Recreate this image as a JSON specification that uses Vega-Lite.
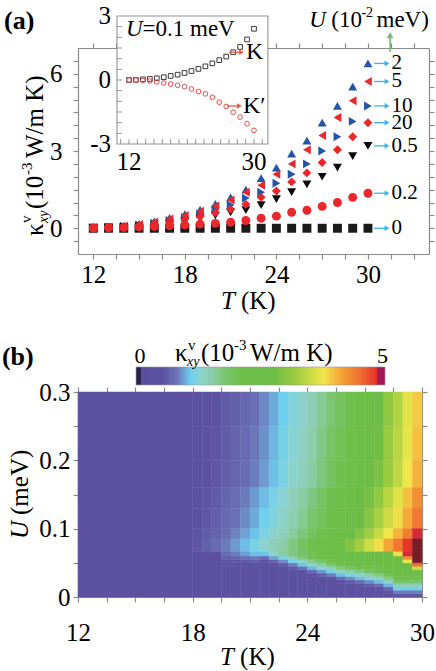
{
"$schema":"https://vega.github.io/schema/vega-lite/v6.json",
"padding":{"left":1,"top":4,"right":0,"bottom":0},
"spacing":22,
"config":{"font":"Liberation Serif","view":{"stroke":null},
"axis":{"labelFont":"Liberation Serif","labelFontSize":25,"labelColor":"#000","domainColor":"#8a8a8a","tickColor":"#8a8a8a","tickSize":5,"grid":false,"labelFlush":false,"labelOverlap":false,"domainWidth":1.2,"tickWidth":1.2},
"text":{"font":"Liberation Serif","color":"#000"}},
"datasets":{
"main":[
{"s":"2","T":12,"v":0.03},{"s":"2","T":13,"v":0.06},{"s":"2","T":14,"v":0.1},{"s":"2","T":15,"v":0.17},{"s":"2","T":16,"v":0.27},{"s":"2","T":17,"v":0.4},{"s":"2","T":18,"v":0.55},{"s":"2","T":19,"v":0.72},{"s":"2","T":20,"v":0.95},{"s":"2","T":21,"v":1.2},{"s":"2","T":22,"v":1.5},{"s":"2","T":23,"v":1.95},{"s":"2","T":24,"v":2.35},{"s":"2","T":25,"v":2.9},{"s":"2","T":26,"v":3.4},{"s":"2","T":27,"v":4.1},{"s":"2","T":28,"v":4.75},{"s":"2","T":29,"v":5.5},{"s":"2","T":30,"v":6.4},
{"s":"10","T":12,"v":0.02},{"s":"10","T":13,"v":0.04},{"s":"10","T":14,"v":0.08},{"s":"10","T":15,"v":0.13},{"s":"10","T":16,"v":0.2},{"s":"10","T":17,"v":0.3},{"s":"10","T":18,"v":0.42},{"s":"10","T":19,"v":0.55},{"s":"10","T":20,"v":0.72},{"s":"10","T":21,"v":0.9},{"s":"10","T":22,"v":1.17},{"s":"10","T":23,"v":1.4},{"s":"10","T":24,"v":1.75},{"s":"10","T":25,"v":2.1},{"s":"10","T":26,"v":2.5},{"s":"10","T":27,"v":3.0},{"s":"10","T":28,"v":3.55},{"s":"10","T":29,"v":4.15},{"s":"10","T":30,"v":4.75},
{"s":"0.5","T":12,"v":0.01},{"s":"0.5","T":13,"v":0.03},{"s":"0.5","T":14,"v":0.05},{"s":"0.5","T":15,"v":0.08},{"s":"0.5","T":16,"v":0.13},{"s":"0.5","T":17,"v":0.2},{"s":"0.5","T":18,"v":0.28},{"s":"0.5","T":19,"v":0.38},{"s":"0.5","T":20,"v":0.5},{"s":"0.5","T":21,"v":0.62},{"s":"0.5","T":22,"v":0.7},{"s":"0.5","T":23,"v":0.9},{"s":"0.5","T":24,"v":1.13},{"s":"0.5","T":25,"v":1.4},{"s":"0.5","T":26,"v":1.7},{"s":"0.5","T":27,"v":2.0},{"s":"0.5","T":28,"v":2.35},{"s":"0.5","T":29,"v":2.8},{"s":"0.5","T":30,"v":3.2},
{"s":"0","T":12,"v":0},{"s":"0","T":13,"v":0},{"s":"0","T":14,"v":0},{"s":"0","T":15,"v":0},{"s":"0","T":16,"v":0},{"s":"0","T":17,"v":0},{"s":"0","T":18,"v":0},{"s":"0","T":19,"v":0},{"s":"0","T":20,"v":0},{"s":"0","T":21,"v":0},{"s":"0","T":22,"v":0},{"s":"0","T":23,"v":0},{"s":"0","T":24,"v":0},{"s":"0","T":25,"v":0},{"s":"0","T":26,"v":0},{"s":"0","T":27,"v":0},{"s":"0","T":28,"v":0},{"s":"0","T":29,"v":0},{"s":"0","T":30,"v":0},
{"s":"5","T":12,"v":0.03},{"s":"5","T":13,"v":0.05},{"s":"5","T":14,"v":0.09},{"s":"5","T":15,"v":0.15},{"s":"5","T":16,"v":0.24},{"s":"5","T":17,"v":0.36},{"s":"5","T":18,"v":0.5},{"s":"5","T":19,"v":0.66},{"s":"5","T":20,"v":0.87},{"s":"5","T":21,"v":1.1},{"s":"5","T":22,"v":1.4},{"s":"5","T":23,"v":1.67},{"s":"5","T":24,"v":2.1},{"s":"5","T":25,"v":2.5},{"s":"5","T":26,"v":3.05},{"s":"5","T":27,"v":3.6},{"s":"5","T":28,"v":4.3},{"s":"5","T":29,"v":4.95},{"s":"5","T":30,"v":5.7},
{"s":"20","T":12,"v":0.02},{"s":"20","T":13,"v":0.04},{"s":"20","T":14,"v":0.07},{"s":"20","T":15,"v":0.11},{"s":"20","T":16,"v":0.17},{"s":"20","T":17,"v":0.25},{"s":"20","T":18,"v":0.35},{"s":"20","T":19,"v":0.46},{"s":"20","T":20,"v":0.6},{"s":"20","T":21,"v":0.74},{"s":"20","T":22,"v":0.93},{"s":"20","T":23,"v":1.2},{"s":"20","T":24,"v":1.45},{"s":"20","T":25,"v":1.8},{"s":"20","T":26,"v":2.15},{"s":"20","T":27,"v":2.55},{"s":"20","T":28,"v":3.05},{"s":"20","T":29,"v":3.55},{"s":"20","T":30,"v":4.1},
{"s":"0.2","T":12,"v":0.01},{"s":"0.2","T":13,"v":0.02},{"s":"0.2","T":14,"v":0.03},{"s":"0.2","T":15,"v":0.05},{"s":"0.2","T":16,"v":0.07},{"s":"0.2","T":17,"v":0.1},{"s":"0.2","T":18,"v":0.13},{"s":"0.2","T":19,"v":0.16},{"s":"0.2","T":20,"v":0.19},{"s":"0.2","T":21,"v":0.23},{"s":"0.2","T":22,"v":0.3},{"s":"0.2","T":23,"v":0.39},{"s":"0.2","T":24,"v":0.47},{"s":"0.2","T":25,"v":0.62},{"s":"0.2","T":26,"v":0.7},{"s":"0.2","T":27,"v":0.85},{"s":"0.2","T":28,"v":1.0},{"s":"0.2","T":29,"v":1.2},{"s":"0.2","T":30,"v":1.36}
],
"inset":[
{"b":"K","T":12,"v":0},{"b":"K","T":13,"v":0.01},{"b":"K","T":14,"v":0.03},{"b":"K","T":15,"v":0.05},{"b":"K","T":16,"v":0.08},{"b":"K","T":17,"v":0.13},{"b":"K","T":18,"v":0.19},{"b":"K","T":19,"v":0.25},{"b":"K","T":20,"v":0.33},{"b":"K","T":21,"v":0.42},{"b":"K","T":22,"v":0.52},{"b":"K","T":23,"v":0.64},{"b":"K","T":24,"v":0.78},{"b":"K","T":25,"v":0.93},{"b":"K","T":26,"v":1.1},{"b":"K","T":27,"v":1.3},{"b":"K","T":28,"v":1.55},{"b":"K","T":29,"v":1.9},{"b":"K","T":30,"v":2.4},
{"b":"Kp","T":12,"v":0},{"b":"Kp","T":13,"v":0},{"b":"Kp","T":14,"v":-0.02},{"b":"Kp","T":15,"v":-0.05},{"b":"Kp","T":16,"v":-0.09},{"b":"Kp","T":17,"v":-0.14},{"b":"Kp","T":18,"v":-0.19},{"b":"Kp","T":19,"v":-0.25},{"b":"Kp","T":20,"v":-0.31},{"b":"Kp","T":21,"v":-0.42},{"b":"Kp","T":22,"v":-0.54},{"b":"Kp","T":23,"v":-0.65},{"b":"Kp","T":24,"v":-0.81},{"b":"Kp","T":25,"v":-1.04},{"b":"Kp","T":26,"v":-1.24},{"b":"Kp","T":27,"v":-1.51},{"b":"Kp","T":28,"v":-1.74},{"b":"Kp","T":29,"v":-2.05},{"b":"Kp","T":30,"v":-2.36}
],
"hm":[
{"t":12,"t2":18,"u":0,"u2":0.3,"k":0.2},
{"t":18,"t2":19.5,"u":0,"u2":0.066,"k":0.32},
{"t":18,"t2":18.5,"u":0.25,"u2":0.3,"k":0.35},{"t":18.5,"t2":19,"u":0.25,"u2":0.3,"k":0.4},{"t":19,"t2":19.5,"u":0.25,"u2":0.3,"k":0.46},{"t":19.5,"t2":20,"u":0.25,"u2":0.3,"k":0.53},{"t":20,"t2":20.5,"u":0.25,"u2":0.3,"k":0.59},{"t":20.5,"t2":21,"u":0.25,"u2":0.3,"k":0.66},{"t":21,"t2":21.5,"u":0.25,"u2":0.3,"k":0.73},{"t":21.5,"t2":22,"u":0.25,"u2":0.3,"k":0.82},{"t":22,"t2":22.5,"u":0.25,"u2":0.3,"k":0.93},{"t":22.5,"t2":23,"u":0.25,"u2":0.3,"k":1.05},{"t":23,"t2":23.5,"u":0.25,"u2":0.3,"k":1.17},{"t":23.5,"t2":24,"u":0.25,"u2":0.3,"k":1.29},{"t":24,"t2":24.5,"u":0.25,"u2":0.3,"k":1.43},{"t":24.5,"t2":25,"u":0.25,"u2":0.3,"k":1.59},{"t":25,"t2":25.5,"u":0.25,"u2":0.3,"k":1.76},{"t":25.5,"t2":26,"u":0.25,"u2":0.3,"k":1.92},{"t":26,"t2":26.5,"u":0.25,"u2":0.3,"k":2.09},{"t":26.5,"t2":27,"u":0.25,"u2":0.3,"k":2.28},{"t":27,"t2":27.5,"u":0.25,"u2":0.3,"k":2.49},{"t":27.5,"t2":28,"u":0.25,"u2":0.3,"k":2.72},{"t":28,"t2":28.5,"u":0.25,"u2":0.3,"k":3.15},{"t":28.5,"t2":29,"u":0.25,"u2":0.3,"k":3.4},{"t":29,"t2":29.5,"u":0.25,"u2":0.3,"k":3.75},{"t":29.5,"t2":30,"u":0.25,"u2":0.3,"k":4.0},
{"t":18,"t2":18.5,"u":0.2,"u2":0.25,"k":0.37},{"t":18.5,"t2":19,"u":0.2,"u2":0.25,"k":0.42},{"t":19,"t2":19.5,"u":0.2,"u2":0.25,"k":0.48},{"t":19.5,"t2":20,"u":0.2,"u2":0.25,"k":0.55},{"t":20,"t2":20.5,"u":0.2,"u2":0.25,"k":0.62},{"t":20.5,"t2":21,"u":0.2,"u2":0.25,"k":0.68},{"t":21,"t2":21.5,"u":0.2,"u2":0.25,"k":0.77},{"t":21.5,"t2":22,"u":0.2,"u2":0.25,"k":0.85},{"t":22,"t2":22.5,"u":0.2,"u2":0.25,"k":0.97},{"t":22.5,"t2":23,"u":0.2,"u2":0.25,"k":1.1},{"t":23,"t2":23.5,"u":0.2,"u2":0.25,"k":1.22},{"t":23.5,"t2":24,"u":0.2,"u2":0.25,"k":1.35},{"t":24,"t2":24.5,"u":0.2,"u2":0.25,"k":1.49},{"t":24.5,"t2":25,"u":0.2,"u2":0.25,"k":1.66},{"t":25,"t2":25.5,"u":0.2,"u2":0.25,"k":1.83},{"t":25.5,"t2":26,"u":0.2,"u2":0.25,"k":2.0},{"t":26,"t2":26.5,"u":0.2,"u2":0.25,"k":2.18},{"t":26.5,"t2":27,"u":0.2,"u2":0.25,"k":2.38},{"t":27,"t2":27.5,"u":0.2,"u2":0.25,"k":2.6},{"t":27.5,"t2":28,"u":0.2,"u2":0.25,"k":2.84},{"t":28,"t2":28.5,"u":0.2,"u2":0.25,"k":3.2},{"t":28.5,"t2":29,"u":0.2,"u2":0.25,"k":3.45},{"t":29,"t2":29.5,"u":0.2,"u2":0.25,"k":3.8},{"t":29.5,"t2":30,"u":0.2,"u2":0.25,"k":4.05},
{"t":18,"t2":18.5,"u":0.16,"u2":0.2,"k":0.38},{"t":18.5,"t2":19,"u":0.16,"u2":0.2,"k":0.43},{"t":19,"t2":19.5,"u":0.16,"u2":0.2,"k":0.5},{"t":19.5,"t2":20,"u":0.16,"u2":0.2,"k":0.57},{"t":20,"t2":20.5,"u":0.16,"u2":0.2,"k":0.64},{"t":20.5,"t2":21,"u":0.16,"u2":0.2,"k":0.71},{"t":21,"t2":21.5,"u":0.16,"u2":0.2,"k":0.79},{"t":21.5,"t2":22,"u":0.16,"u2":0.2,"k":0.88},{"t":22,"t2":22.5,"u":0.16,"u2":0.2,"k":1.0},{"t":22.5,"t2":23,"u":0.16,"u2":0.2,"k":1.13},{"t":23,"t2":23.5,"u":0.16,"u2":0.2,"k":1.26},{"t":23.5,"t2":24,"u":0.16,"u2":0.2,"k":1.39},{"t":24,"t2":24.5,"u":0.16,"u2":0.2,"k":1.54},{"t":24.5,"t2":25,"u":0.16,"u2":0.2,"k":1.71},{"t":25,"t2":25.5,"u":0.16,"u2":0.2,"k":1.89},{"t":25.5,"t2":26,"u":0.16,"u2":0.2,"k":2.06},{"t":26,"t2":26.5,"u":0.16,"u2":0.2,"k":2.25},{"t":26.5,"t2":27,"u":0.16,"u2":0.2,"k":2.45},{"t":27,"t2":27.5,"u":0.16,"u2":0.2,"k":2.68},{"t":27.5,"t2":28,"u":0.16,"u2":0.2,"k":2.93},{"t":28,"t2":28.5,"u":0.16,"u2":0.2,"k":3.22},{"t":28.5,"t2":29,"u":0.16,"u2":0.2,"k":3.5},{"t":29,"t2":29.5,"u":0.16,"u2":0.2,"k":3.85},{"t":29.5,"t2":30,"u":0.16,"u2":0.2,"k":4.15},
{"t":18,"t2":18.5,"u":0.13,"u2":0.16,"k":0.42},{"t":18.5,"t2":19,"u":0.13,"u2":0.16,"k":0.48},{"t":19,"t2":19.5,"u":0.13,"u2":0.16,"k":0.54},{"t":19.5,"t2":20,"u":0.13,"u2":0.16,"k":0.62},{"t":20,"t2":20.5,"u":0.13,"u2":0.16,"k":0.7},{"t":20.5,"t2":21,"u":0.13,"u2":0.16,"k":0.78},{"t":21,"t2":21.5,"u":0.13,"u2":0.16,"k":0.88},{"t":21.5,"t2":22,"u":0.13,"u2":0.16,"k":0.99},{"t":22,"t2":22.5,"u":0.13,"u2":0.16,"k":1.12},{"t":22.5,"t2":23,"u":0.13,"u2":0.16,"k":1.24},{"t":23,"t2":23.5,"u":0.13,"u2":0.16,"k":1.38},{"t":23.5,"t2":24,"u":0.13,"u2":0.16,"k":1.53},{"t":24,"t2":24.5,"u":0.13,"u2":0.16,"k":1.69},{"t":24.5,"t2":25,"u":0.13,"u2":0.16,"k":1.86},{"t":25,"t2":25.5,"u":0.13,"u2":0.16,"k":2.05},{"t":25.5,"t2":26,"u":0.13,"u2":0.16,"k":2.23},{"t":26,"t2":26.5,"u":0.13,"u2":0.16,"k":2.44},{"t":26.5,"t2":27,"u":0.13,"u2":0.16,"k":2.67},{"t":27,"t2":27.5,"u":0.13,"u2":0.16,"k":2.91},{"t":27.5,"t2":28,"u":0.13,"u2":0.16,"k":3.17},{"t":28,"t2":28.5,"u":0.13,"u2":0.16,"k":3.45},{"t":28.5,"t2":29,"u":0.13,"u2":0.16,"k":3.75},{"t":29,"t2":29.5,"u":0.13,"u2":0.16,"k":4.05},{"t":29.5,"t2":30,"u":0.13,"u2":0.16,"k":4.38},
{"t":18,"t2":18.5,"u":0.1,"u2":0.13,"k":0.44},{"t":18.5,"t2":19,"u":0.1,"u2":0.13,"k":0.5},{"t":19,"t2":19.5,"u":0.1,"u2":0.13,"k":0.57},{"t":19.5,"t2":20,"u":0.1,"u2":0.13,"k":0.66},{"t":20,"t2":20.5,"u":0.1,"u2":0.13,"k":0.74},{"t":20.5,"t2":21,"u":0.1,"u2":0.13,"k":0.83},{"t":21,"t2":21.5,"u":0.1,"u2":0.13,"k":0.93},{"t":21.5,"t2":22,"u":0.1,"u2":0.13,"k":1.06},{"t":22,"t2":22.5,"u":0.1,"u2":0.13,"k":1.18},{"t":22.5,"t2":23,"u":0.1,"u2":0.13,"k":1.3},{"t":23,"t2":23.5,"u":0.1,"u2":0.13,"k":1.44},{"t":23.5,"t2":24,"u":0.1,"u2":0.13,"k":1.61},{"t":24,"t2":24.5,"u":0.1,"u2":0.13,"k":1.78},{"t":24.5,"t2":25,"u":0.1,"u2":0.13,"k":1.95},{"t":25,"t2":25.5,"u":0.1,"u2":0.13,"k":2.14},{"t":25.5,"t2":26,"u":0.1,"u2":0.13,"k":2.33},{"t":26,"t2":26.5,"u":0.1,"u2":0.13,"k":2.55},{"t":26.5,"t2":27,"u":0.1,"u2":0.13,"k":2.79},{"t":27,"t2":27.5,"u":0.1,"u2":0.13,"k":3.05},{"t":27.5,"t2":28,"u":0.1,"u2":0.13,"k":3.33},{"t":28,"t2":28.5,"u":0.1,"u2":0.13,"k":3.6},{"t":28.5,"t2":29,"u":0.1,"u2":0.13,"k":3.9},{"t":29,"t2":29.5,"u":0.1,"u2":0.13,"k":4.2},{"t":29.5,"t2":30,"u":0.1,"u2":0.13,"k":4.55},
{"t":18,"t2":18.5,"u":0.085,"u2":0.1,"k":0.47},{"t":18.5,"t2":19,"u":0.085,"u2":0.1,"k":0.54},{"t":19,"t2":19.5,"u":0.085,"u2":0.1,"k":0.61},{"t":19.5,"t2":20,"u":0.085,"u2":0.1,"k":0.71},{"t":20,"t2":20.5,"u":0.085,"u2":0.1,"k":0.8},{"t":20.5,"t2":21,"u":0.085,"u2":0.1,"k":0.9},{"t":21,"t2":21.5,"u":0.085,"u2":0.1,"k":1.01},{"t":21.5,"t2":22,"u":0.085,"u2":0.1,"k":1.15},{"t":22,"t2":22.5,"u":0.085,"u2":0.1,"k":1.28},{"t":22.5,"t2":23,"u":0.085,"u2":0.1,"k":1.39},{"t":23,"t2":23.5,"u":0.085,"u2":0.1,"k":1.55},{"t":23.5,"t2":24,"u":0.085,"u2":0.1,"k":1.73},{"t":24,"t2":24.5,"u":0.085,"u2":0.1,"k":1.91},{"t":24.5,"t2":25,"u":0.085,"u2":0.1,"k":2.09},{"t":25,"t2":25.5,"u":0.085,"u2":0.1,"k":2.29},{"t":25.5,"t2":26,"u":0.085,"u2":0.1,"k":2.5},{"t":26,"t2":26.5,"u":0.085,"u2":0.1,"k":2.74},{"t":26.5,"t2":27,"u":0.085,"u2":0.1,"k":3.0},{"t":27,"t2":27.5,"u":0.085,"u2":0.1,"k":3.27},{"t":27.5,"t2":28,"u":0.085,"u2":0.1,"k":3.55},{"t":28,"t2":28.5,"u":0.085,"u2":0.1,"k":3.85},{"t":28.5,"t2":29,"u":0.085,"u2":0.1,"k":4.15},{"t":29,"t2":29.5,"u":0.085,"u2":0.1,"k":4.5},{"t":29.5,"t2":30,"u":0.085,"u2":0.1,"k":5.0},
{"t":18,"t2":18.5,"u":0.066,"u2":0.085,"k":0.51},{"t":18.5,"t2":19,"u":0.066,"u2":0.085,"k":0.59},{"t":19,"t2":19.5,"u":0.066,"u2":0.085,"k":0.67},{"t":19.5,"t2":20,"u":0.066,"u2":0.085,"k":0.78},{"t":20,"t2":20.5,"u":0.066,"u2":0.085,"k":0.88},{"t":20.5,"t2":21,"u":0.066,"u2":0.085,"k":0.99},{"t":21,"t2":21.5,"u":0.066,"u2":0.085,"k":1.12},{"t":21.5,"t2":22,"u":0.066,"u2":0.085,"k":1.26},{"t":22,"t2":22.5,"u":0.066,"u2":0.085,"k":1.4},{"t":22.5,"t2":23,"u":0.066,"u2":0.085,"k":1.52},{"t":23,"t2":23.5,"u":0.066,"u2":0.085,"k":1.69},{"t":23.5,"t2":24,"u":0.066,"u2":0.085,"k":1.89},{"t":24,"t2":24.5,"u":0.066,"u2":0.085,"k":2.09},{"t":24.5,"t2":25,"u":0.066,"u2":0.085,"k":2.28},{"t":25,"t2":25.5,"u":0.066,"u2":0.085,"k":2.51},{"t":25.5,"t2":26,"u":0.066,"u2":0.085,"k":2.76},{"t":26,"t2":26.5,"u":0.066,"u2":0.085,"k":3.02},{"t":26.5,"t2":27,"u":0.066,"u2":0.085,"k":3.29},{"t":27,"t2":27.5,"u":0.066,"u2":0.085,"k":3.59},{"t":27.5,"t2":28,"u":0.066,"u2":0.085,"k":3.9},{"t":28,"t2":28.5,"u":0.066,"u2":0.085,"k":4.23},{"t":28.5,"t2":29,"u":0.066,"u2":0.085,"k":4.55},{"t":29,"t2":29.5,"u":0.066,"u2":0.085,"k":4.95},{"t":29.5,"t2":30,"u":0.066,"u2":0.085,"k":5.7},
{"t":19.5,"t2":20,"u":0,"u2":0.045,"k":0.3},{"t":19.5,"t2":20,"u":0.045,"u2":0.05,"k":0.34},{"t":19.5,"t2":20,"u":0.05,"u2":0.055,"k":0.46},{"t":19.5,"t2":20,"u":0.055,"u2":0.06,"k":0.58},{"t":19.5,"t2":20,"u":0.06,"u2":0.066,"k":0.71},
{"t":20,"t2":20.5,"u":0,"u2":0.045,"k":0.3},{"t":20,"t2":20.5,"u":0.045,"u2":0.05,"k":0.34},{"t":20,"t2":20.5,"u":0.05,"u2":0.055,"k":0.49},{"t":20,"t2":20.5,"u":0.055,"u2":0.06,"k":0.63},{"t":20,"t2":20.5,"u":0.06,"u2":0.066,"k":0.79},
{"t":20.5,"t2":21,"u":0,"u2":0.045,"k":0.3},{"t":20.5,"t2":21,"u":0.045,"u2":0.05,"k":0.35},{"t":20.5,"t2":21,"u":0.05,"u2":0.055,"k":0.52},{"t":20.5,"t2":21,"u":0.055,"u2":0.06,"k":0.7},{"t":20.5,"t2":21,"u":0.06,"u2":0.066,"k":0.89},
{"t":21,"t2":21.5,"u":0,"u2":0.045,"k":0.3},{"t":21,"t2":21.5,"u":0.045,"u2":0.05,"k":0.36},{"t":21,"t2":21.5,"u":0.05,"u2":0.055,"k":0.57},{"t":21,"t2":21.5,"u":0.055,"u2":0.06,"k":0.77},{"t":21,"t2":21.5,"u":0.06,"u2":0.066,"k":1.0},
{"t":21.5,"t2":22,"u":0,"u2":0.05,"k":0.3},{"t":21.5,"t2":22,"u":0.05,"u2":0.055,"k":0.38},{"t":21.5,"t2":22,"u":0.055,"u2":0.06,"k":0.68},{"t":21.5,"t2":22,"u":0.06,"u2":0.066,"k":1.01},
{"t":22,"t2":22.5,"u":0,"u2":0.05,"k":0.3},{"t":22,"t2":22.5,"u":0.05,"u2":0.055,"k":0.6},{"t":22,"t2":22.5,"u":0.055,"u2":0.06,"k":0.9},{"t":22,"t2":22.5,"u":0.06,"u2":0.066,"k":1.26},
{"t":22.5,"t2":23,"u":0,"u2":0.045,"k":0.3},{"t":22.5,"t2":23,"u":0.045,"u2":0.05,"k":0.54},{"t":22.5,"t2":23,"u":0.05,"u2":0.055,"k":0.84},{"t":22.5,"t2":23,"u":0.055,"u2":0.06,"k":1.16},{"t":22.5,"t2":23,"u":0.06,"u2":0.066,"k":1.54},
{"t":23,"t2":23.5,"u":0,"u2":0.04,"k":0.3},{"t":23,"t2":23.5,"u":0.04,"u2":0.045,"k":0.48},{"t":23,"t2":23.5,"u":0.045,"u2":0.05,"k":0.78},{"t":23,"t2":23.5,"u":0.05,"u2":0.055,"k":1.09},{"t":23,"t2":23.5,"u":0.055,"u2":0.06,"k":1.44},{"t":23,"t2":23.5,"u":0.06,"u2":0.066,"k":1.7},
{"t":23.5,"t2":24,"u":0,"u2":0.035,"k":0.3},{"t":23.5,"t2":24,"u":0.035,"u2":0.04,"k":0.42},{"t":23.5,"t2":24,"u":0.04,"u2":0.045,"k":0.72},{"t":23.5,"t2":24,"u":0.045,"u2":0.05,"k":1.02},{"t":23.5,"t2":24,"u":0.05,"u2":0.055,"k":1.37},{"t":23.5,"t2":24,"u":0.055,"u2":0.06,"k":1.71},{"t":23.5,"t2":24,"u":0.06,"u2":0.066,"k":1.85},
{"t":24,"t2":24.5,"u":0,"u2":0.03,"k":0.3},{"t":24,"t2":24.5,"u":0.03,"u2":0.035,"k":0.36},{"t":24,"t2":24.5,"u":0.035,"u2":0.04,"k":0.66},{"t":24,"t2":24.5,"u":0.04,"u2":0.045,"k":0.96},{"t":24,"t2":24.5,"u":0.045,"u2":0.05,"k":1.3},{"t":24,"t2":24.5,"u":0.05,"u2":0.055,"k":1.65},{"t":24,"t2":24.5,"u":0.055,"u2":0.06,"k":1.99},{"t":24,"t2":24.5,"u":0.06,"u2":0.066,"k":2.0},
{"t":24.5,"t2":25,"u":0,"u2":0.03,"k":0.3},{"t":24.5,"t2":25,"u":0.03,"u2":0.035,"k":0.57},{"t":24.5,"t2":25,"u":0.035,"u2":0.04,"k":0.87},{"t":24.5,"t2":25,"u":0.04,"u2":0.045,"k":1.19},{"t":24.5,"t2":25,"u":0.045,"u2":0.05,"k":1.54},{"t":24.5,"t2":25,"u":0.05,"u2":0.055,"k":1.89},{"t":24.5,"t2":25,"u":0.055,"u2":0.066,"k":2.15},
{"t":25,"t2":25.5,"u":0,"u2":0.025,"k":0.3},{"t":25,"t2":25.5,"u":0.025,"u2":0.03,"k":0.48},{"t":25,"t2":25.5,"u":0.03,"u2":0.035,"k":0.78},{"t":25,"t2":25.5,"u":0.035,"u2":0.04,"k":1.09},{"t":25,"t2":25.5,"u":0.04,"u2":0.045,"k":1.44},{"t":25,"t2":25.5,"u":0.045,"u2":0.05,"k":1.79},{"t":25,"t2":25.5,"u":0.05,"u2":0.055,"k":2.13},{"t":25,"t2":25.5,"u":0.055,"u2":0.066,"k":2.3},
{"t":25.5,"t2":26,"u":0,"u2":0.02,"k":0.3},{"t":25.5,"t2":26,"u":0.02,"u2":0.025,"k":0.39},{"t":25.5,"t2":26,"u":0.025,"u2":0.03,"k":0.69},{"t":25.5,"t2":26,"u":0.03,"u2":0.035,"k":0.99},{"t":25.5,"t2":26,"u":0.035,"u2":0.04,"k":1.33},{"t":25.5,"t2":26,"u":0.04,"u2":0.045,"k":1.68},{"t":25.5,"t2":26,"u":0.045,"u2":0.05,"k":2.03},{"t":25.5,"t2":26,"u":0.05,"u2":0.066,"k":2.4},
{"t":26,"t2":26.5,"u":0,"u2":0.02,"k":0.3},{"t":26,"t2":26.5,"u":0.02,"u2":0.025,"k":0.54},{"t":26,"t2":26.5,"u":0.025,"u2":0.03,"k":0.84},{"t":26,"t2":26.5,"u":0.03,"u2":0.035,"k":1.16},{"t":26,"t2":26.5,"u":0.035,"u2":0.04,"k":1.5},{"t":26,"t2":26.5,"u":0.04,"u2":0.045,"k":1.86},{"t":26,"t2":26.5,"u":0.045,"u2":0.05,"k":2.2},{"t":26,"t2":26.5,"u":0.05,"u2":0.066,"k":2.5},
{"t":26.5,"t2":27,"u":0,"u2":0.015,"k":0.3},{"t":26.5,"t2":27,"u":0.015,"u2":0.02,"k":0.39},{"t":26.5,"t2":27,"u":0.02,"u2":0.025,"k":0.69},{"t":26.5,"t2":27,"u":0.025,"u2":0.03,"k":0.99},{"t":26.5,"t2":27,"u":0.03,"u2":0.035,"k":1.33},{"t":26.5,"t2":27,"u":0.035,"u2":0.04,"k":1.68},{"t":26.5,"t2":27,"u":0.04,"u2":0.045,"k":2.03},{"t":26.5,"t2":27,"u":0.045,"u2":0.05,"k":2.38},{"t":26.5,"t2":27,"u":0.05,"u2":0.066,"k":2.55},
{"t":27,"t2":27.5,"u":0,"u2":0.015,"k":0.3},{"t":27,"t2":27.5,"u":0.015,"u2":0.02,"k":0.54},{"t":27,"t2":27.5,"u":0.02,"u2":0.025,"k":0.84},{"t":27,"t2":27.5,"u":0.025,"u2":0.03,"k":1.16},{"t":27,"t2":27.5,"u":0.03,"u2":0.035,"k":1.5},{"t":27,"t2":27.5,"u":0.035,"u2":0.04,"k":1.86},{"t":27,"t2":27.5,"u":0.04,"u2":0.045,"k":2.2},{"t":27,"t2":27.5,"u":0.045,"u2":0.066,"k":2.6},
{"t":27.5,"t2":28,"u":0,"u2":0.01,"k":0.3},{"t":27.5,"t2":28,"u":0.01,"u2":0.015,"k":0.39},{"t":27.5,"t2":28,"u":0.015,"u2":0.02,"k":0.69},{"t":27.5,"t2":28,"u":0.02,"u2":0.025,"k":0.99},{"t":27.5,"t2":28,"u":0.025,"u2":0.03,"k":1.33},{"t":27.5,"t2":28,"u":0.03,"u2":0.035,"k":1.68},{"t":27.5,"t2":28,"u":0.035,"u2":0.04,"k":2.03},{"t":27.5,"t2":28,"u":0.04,"u2":0.045,"k":2.38},{"t":27.5,"t2":28,"u":0.045,"u2":0.066,"k":2.65},
{"t":28,"t2":28.5,"u":0,"u2":0.005,"k":0.3},{"t":28,"t2":28.5,"u":0.005,"u2":0.01,"k":0.36},{"t":28,"t2":28.5,"u":0.01,"u2":0.015,"k":0.66},{"t":28,"t2":28.5,"u":0.015,"u2":0.02,"k":0.96},{"t":28,"t2":28.5,"u":0.02,"u2":0.025,"k":1.3},{"t":28,"t2":28.5,"u":0.025,"u2":0.03,"k":1.65},{"t":28,"t2":28.5,"u":0.03,"u2":0.035,"k":2.0},{"t":28,"t2":28.5,"u":0.035,"u2":0.04,"k":2.35},{"t":28,"t2":28.5,"u":0.04,"u2":0.066,"k":2.7},
{"t":28.5,"t2":29,"u":0,"u2":0.005,"k":0.48},{"t":28.5,"t2":29,"u":0.005,"u2":0.01,"k":0.78},{"t":28.5,"t2":29,"u":0.01,"u2":0.015,"k":1.08},{"t":28.5,"t2":29,"u":0.015,"u2":0.02,"k":1.44},{"t":28.5,"t2":29,"u":0.02,"u2":0.025,"k":1.79},{"t":28.5,"t2":29,"u":0.025,"u2":0.03,"k":2.13},{"t":28.5,"t2":29,"u":0.03,"u2":0.06,"k":2.75},{"t":28.5,"t2":29,"u":0.06,"u2":0.066,"k":3.9},
{"t":29,"t2":29.5,"u":0,"u2":0.005,"k":0.48},{"t":29,"t2":29.5,"u":0.005,"u2":0.01,"k":0.78},{"t":29,"t2":29.5,"u":0.01,"u2":0.015,"k":1.08},{"t":29,"t2":29.5,"u":0.015,"u2":0.02,"k":1.44},{"t":29,"t2":29.5,"u":0.02,"u2":0.025,"k":1.79},{"t":29,"t2":29.5,"u":0.025,"u2":0.03,"k":2.13},{"t":29,"t2":29.5,"u":0.03,"u2":0.05,"k":2.8},{"t":29,"t2":29.5,"u":0.05,"u2":0.055,"k":3.8},{"t":29,"t2":29.5,"u":0.055,"u2":0.06,"k":4.4},{"t":29,"t2":29.5,"u":0.06,"u2":0.066,"k":5.0},
{"t":29.5,"t2":30,"u":0,"u2":0.005,"k":0.48},{"t":29.5,"t2":30,"u":0.005,"u2":0.01,"k":0.78},{"t":29.5,"t2":30,"u":0.01,"u2":0.015,"k":1.08},{"t":29.5,"t2":30,"u":0.015,"u2":0.02,"k":1.44},{"t":29.5,"t2":30,"u":0.02,"u2":0.025,"k":1.79},{"t":29.5,"t2":30,"u":0.025,"u2":0.03,"k":2.13},{"t":29.5,"t2":30,"u":0.03,"u2":0.04,"k":2.85},{"t":29.5,"t2":30,"u":0.04,"u2":0.045,"k":3.6},{"t":29.5,"t2":30,"u":0.045,"u2":0.05,"k":4.6},{"t":29.5,"t2":30,"u":0.05,"u2":0.066,"k":5.8}
]
},
"vconcat":[
{
"width":351,"height":206,
"data":{"values":[{}]},
"layer":[
{
"layer":[
{"data":{"name":"main"},"mark":{"type":"point","filled":true,"opacity":1,"strokeWidth":0},
"encoding":{
"x":{"field":"T","type":"quantitative","scale":{"domain":[11,34],"nice":false,"zero":false},"axis":{"orient":"bottom","title":null,"values":[12,13.5,15,16.5,18,19.5,21,22.5,24,25.5,27,28.5,30,31.5,33],"format":"~g","labelExpr":"datum.value % 6 === 0 ? datum.label : ''","labelPadding":3}},
"y":{"field":"v","type":"quantitative","scale":{"domain":[-1,7],"nice":false,"zero":false},"axis":{"orient":"left","title":null,"values":[-0.5,0,0.5,1,1.5,2,2.5,3,3.5,4,4.5,5,5.5,6,6.5],"format":"~g","labelExpr":"datum.value % 3 === 0 ? datum.label : ''","labelPadding":11}},
"shape":{"field":"s","type":"nominal","scale":{"domain":["2","5","10","20","0.5","0.2","0"],"range":["triangle-up","triangle-left","triangle-right","diamond","triangle-down","circle","square"]},"legend":null},
"color":{"field":"s","type":"nominal","scale":{"domain":["2","5","10","20","0.5","0.2","0"],"range":["#2455a5","#e8282d","#2455a5","#e8282d","#0a0a0a","#e8282d","#1a1a1a"]},"legend":null},
"size":{"field":"s","type":"ordinal","scale":{"domain":["2","5","10","20","0.5","0.2","0"],"range":[80,80,80,75,80,50,40]},"legend":null}}},
{"data":{"name":"main"},"transform":[{"filter":"datum.T === 30"}],"mark":{"type":"rule","color":"#3bb5e8","strokeWidth":1.3},
"encoding":{"x":{"datum":30.4,"scale":{"domain":[11,34],"nice":false,"zero":false},"axis":null},"x2":{"datum":31.2},"y":{"field":"v","type":"quantitative","scale":{"domain":[-1,7],"nice":false,"zero":false},"axis":null}}},
{"data":{"name":"main"},"transform":[{"filter":"datum.T === 30"}],"mark":{"type":"point","shape":"triangle-right","filled":true,"size":32,"color":"#3bb5e8","opacity":1},
"encoding":{"x":{"datum":31.25,"scale":{"domain":[11,34],"nice":false,"zero":false},"axis":null},"y":{"field":"v","type":"quantitative","scale":{"domain":[-1,7],"nice":false,"zero":false},"axis":null}}},
{"data":{"name":"main"},"transform":[{"filter":"datum.T === 30"}],"mark":{"type":"text","align":"left","baseline":"middle","fontSize":21},
"encoding":{"x":{"datum":31.55,"scale":{"domain":[11,34],"nice":false,"zero":false},"axis":null},"y":{"field":"v","type":"quantitative","scale":{"domain":[-1,7],"nice":false,"zero":false},"axis":null},"text":{"field":"s"}}},
{"mark":{"type":"rule","color":"#6bbf6e","strokeWidth":1.6},
"encoding":{"x":{"datum":31.45,"scale":{"domain":[11,34],"nice":false,"zero":false},"axis":{"orient":"top","title":null,"labels":false,"values":[12,13.5,15,16.5,18,19.5,21,22.5,24,25.5,27,28.5,30,31.5,33]}},"y":{"datum":6.85,"scale":{"domain":[-1,7],"nice":false,"zero":false},"axis":{"orient":"right","title":null,"labels":false,"values":[-0.5,0,0.5,1,1.5,2,2.5,3,3.5,4,4.5,5,5.5,6,6.5]}},"y2":{"datum":7.42}}},
{"mark":{"type":"point","shape":"triangle-up","filled":true,"size":45,"color":"#6bbf6e","opacity":1},
"encoding":{"x":{"datum":31.45,"scale":{"domain":[11,34],"nice":false,"zero":false},"axis":null},"y":{"datum":7.5,"scale":{"domain":[-1,7],"nice":false,"zero":false},"axis":null}}},
{"mark":{"type":"text","align":"left","baseline":"alphabetic","fontSize":23,"fontStyle":"italic","text":"U"},
"encoding":{"x":{"datum":26.16,"scale":{"domain":[11,34],"nice":false,"zero":false},"axis":null},"y":{"datum":7.82,"scale":{"domain":[-1,7],"nice":false,"zero":false},"axis":null}}},
{"mark":{"type":"text","align":"left","baseline":"alphabetic","fontSize":23,"text":"(10"},
"encoding":{"x":{"datum":27.6,"scale":{"domain":[11,34],"nice":false,"zero":false},"axis":null},"y":{"datum":7.82,"scale":{"domain":[-1,7],"nice":false,"zero":false},"axis":null}}},
{"mark":{"type":"text","align":"left","baseline":"alphabetic","fontSize":14,"dy":-10,"text":"-2"},
"encoding":{"x":{"datum":29.57,"scale":{"domain":[11,34],"nice":false,"zero":false},"axis":null},"y":{"datum":7.82,"scale":{"domain":[-1,7],"nice":false,"zero":false},"axis":null}}},
{"mark":{"type":"text","align":"left","baseline":"alphabetic","fontSize":23,"text":"meV)"},
"encoding":{"x":{"datum":30.56,"scale":{"domain":[11,34],"nice":false,"zero":false},"axis":null},"y":{"datum":7.82,"scale":{"domain":[-1,7],"nice":false,"zero":false},"axis":null}}},
{"mark":{"type":"text","align":"left","baseline":"alphabetic","fontSize":26,"fontWeight":"bold","text":"(a)"},
"encoding":{"x":{"datum":6.15,"scale":{"domain":[11,34],"nice":false,"zero":false},"axis":null},"y":{"datum":7.74,"scale":{"domain":[-1,7],"nice":false,"zero":false},"axis":null}}},
{"mark":{"type":"text","align":"left","baseline":"alphabetic","fontSize":25,"fontStyle":"italic","text":"T"},
"encoding":{"x":{"datum":20.37,"scale":{"domain":[11,34],"nice":false,"zero":false},"axis":null},"y":{"datum":-3.14,"scale":{"domain":[-1,7],"nice":false,"zero":false},"axis":null}}},
{"mark":{"type":"text","align":"left","baseline":"alphabetic","fontSize":25,"text":"(K)"},
"encoding":{"x":{"datum":21.68,"scale":{"domain":[11,34],"nice":false,"zero":false},"axis":null},"y":{"datum":-3.14,"scale":{"domain":[-1,7],"nice":false,"zero":false},"axis":null}}},
{"mark":{"type":"text","align":"left","baseline":"alphabetic","angle":270,"fontSize":25,"text":"κ"},
"encoding":{"x":{"datum":8.71,"scale":{"domain":[11,34],"nice":false,"zero":false},"axis":null},"y":{"datum":-0.3,"scale":{"domain":[-1,7],"nice":false,"zero":false},"axis":null}}},
{"mark":{"type":"text","align":"left","baseline":"alphabetic","angle":270,"fontSize":15,"dx":13,"dy":-12,"text":"v"},
"encoding":{"x":{"datum":8.71,"scale":{"domain":[11,34],"nice":false,"zero":false},"axis":null},"y":{"datum":-0.3,"scale":{"domain":[-1,7],"nice":false,"zero":false},"axis":null}}},
{"mark":{"type":"text","align":"left","baseline":"alphabetic","angle":270,"fontSize":14,"fontStyle":"italic","dx":13,"dy":5,"text":"xy"},
"encoding":{"x":{"datum":8.71,"scale":{"domain":[11,34],"nice":false,"zero":false},"axis":null},"y":{"datum":-0.3,"scale":{"domain":[-1,7],"nice":false,"zero":false},"axis":null}}},
{"mark":{"type":"text","align":"left","baseline":"alphabetic","angle":270,"fontSize":25,"dx":27,"text":"(10"},
"encoding":{"x":{"datum":8.71,"scale":{"domain":[11,34],"nice":false,"zero":false},"axis":null},"y":{"datum":-0.3,"scale":{"domain":[-1,7],"nice":false,"zero":false},"axis":null}}},
{"mark":{"type":"text","align":"left","baseline":"alphabetic","angle":270,"fontSize":15,"dx":61,"dy":-11,"text":"-3"},
"encoding":{"x":{"datum":8.71,"scale":{"domain":[11,34],"nice":false,"zero":false},"axis":null},"y":{"datum":-0.3,"scale":{"domain":[-1,7],"nice":false,"zero":false},"axis":null}}},
{"mark":{"type":"text","align":"left","baseline":"alphabetic","angle":270,"fontSize":25,"dx":78,"text":"W/m K)"},
"encoding":{"x":{"datum":8.71,"scale":{"domain":[11,34],"nice":false,"zero":false},"axis":null},"y":{"datum":-0.3,"scale":{"domain":[-1,7],"nice":false,"zero":false},"axis":null}}}
],
"resolve":{"axis":{"x":"independent","y":"independent"}}
},
{
"layer":[
{"mark":{"type":"rect","fill":"white","stroke":"#939393","strokeWidth":1.1},
"encoding":{"x":{"datum":10.27,"scale":{"domain":[4.656,55.2],"nice":false,"zero":false},"axis":null},"x2":{"datum":32.0},"y":{"datum":-3,"scale":{"domain":[-8.157,1.5],"nice":false,"zero":false},"axis":null},"y2":{"datum":3}}},
{"data":{"values":[{"v":-2.5},{"v":-2},{"v":-1.5},{"v":-1},{"v":-0.5},{"v":0},{"v":0.5},{"v":1},{"v":1.5},{"v":2},{"v":2.5}]},"mark":{"type":"rule","color":"#939393","strokeWidth":1},
"encoding":{"x":{"datum":10.27,"scale":{"domain":[4.656,55.2],"nice":false,"zero":false},"axis":null},"x2":{"datum":11.0},"y":{"field":"v","type":"quantitative","scale":{"domain":[-8.157,1.5],"nice":false,"zero":false},"axis":null}}},
{"data":{"values":[{"t":10.8},{"t":12},{"t":13.2},{"t":14.4},{"t":15.6},{"t":16.8},{"t":18},{"t":19.2},{"t":20.4},{"t":21.6},{"t":22.8},{"t":24},{"t":25.2},{"t":26.4},{"t":27.6},{"t":28.8},{"t":30},{"t":31.2}]},"mark":{"type":"rule","color":"#939393","strokeWidth":1},
"encoding":{"x":{"field":"t","type":"quantitative","scale":{"domain":[4.656,55.2],"nice":false,"zero":false},"axis":null},"y":{"datum":-3,"scale":{"domain":[-8.157,1.5],"nice":false,"zero":false},"axis":null},"y2":{"datum":-2.77}}},
{"data":{"name":"inset"},"transform":[{"filter":"datum.b === 'K'"}],"mark":{"type":"point","shape":"square","filled":false,"strokeWidth":1,"size":22,"opacity":1,"color":"#3a3a3a"},
"encoding":{"x":{"field":"T","type":"quantitative","scale":{"domain":[4.656,55.2],"nice":false,"zero":false},"axis":null},"y":{"field":"v","type":"quantitative","scale":{"domain":[-8.157,1.5],"nice":false,"zero":false},"axis":null}}},
{"data":{"name":"inset"},"transform":[{"filter":"datum.b === 'Kp'"}],"mark":{"type":"point","shape":"circle","filled":false,"strokeWidth":1,"size":22,"opacity":1,"color":"#ef4a47"},
"encoding":{"x":{"field":"T","type":"quantitative","scale":{"domain":[4.656,55.2],"nice":false,"zero":false},"axis":null},"y":{"field":"v","type":"quantitative","scale":{"domain":[-8.157,1.5],"nice":false,"zero":false},"axis":null}}},
{"data":{"values":[{"v":3,"l":"3"},{"v":0,"l":"0"},{"v":-3,"l":"-3"}]},"mark":{"type":"text","align":"right","baseline":"middle","fontSize":25},
"encoding":{"x":{"datum":9.41,"scale":{"domain":[4.656,55.2],"nice":false,"zero":false},"axis":null},"y":{"field":"v","type":"quantitative","scale":{"domain":[-8.157,1.5],"nice":false,"zero":false},"axis":null},"text":{"field":"l"}}},
{"data":{"values":[{"t":12,"l":"12"},{"t":30,"l":"30"}]},"mark":{"type":"text","align":"center","baseline":"middle","fontSize":25},
"encoding":{"x":{"field":"t","type":"quantitative","scale":{"domain":[4.656,55.2],"nice":false,"zero":false},"axis":null},"y":{"datum":-3.84,"scale":{"domain":[-8.157,1.5],"nice":false,"zero":false},"axis":null},"text":{"field":"l"}}},
{"mark":{"type":"text","align":"left","baseline":"alphabetic","fontSize":23,"fontStyle":"italic","text":"U"},
"encoding":{"x":{"datum":11.57,"scale":{"domain":[4.656,55.2],"nice":false,"zero":false},"axis":null},"y":{"datum":2.06,"scale":{"domain":[-8.157,1.5],"nice":false,"zero":false},"axis":null}}},
{"mark":{"type":"text","align":"left","baseline":"alphabetic","fontSize":23,"text":"=0.1 meV"},
"encoding":{"x":{"datum":13.95,"scale":{"domain":[4.656,55.2],"nice":false,"zero":false},"axis":null},"y":{"datum":2.06,"scale":{"domain":[-8.157,1.5],"nice":false,"zero":false},"axis":null}}},
{"mark":{"type":"text","align":"left","baseline":"middle","fontSize":24,"text":"K"},
"encoding":{"x":{"datum":28.85,"scale":{"domain":[4.656,55.2],"nice":false,"zero":false},"axis":null},"y":{"datum":1.3,"scale":{"domain":[-8.157,1.5],"nice":false,"zero":false},"axis":null}}},
{"mark":{"type":"text","align":"left","baseline":"middle","fontSize":24,"text":"K′"},
"encoding":{"x":{"datum":28.4,"scale":{"domain":[4.656,55.2],"nice":false,"zero":false},"axis":null},"y":{"datum":-1.22,"scale":{"domain":[-8.157,1.5],"nice":false,"zero":false},"axis":null}}},
{"mark":{"type":"rule","color":"#f0574a","strokeWidth":1.3},
"encoding":{"x":{"datum":26.4,"scale":{"domain":[4.656,55.2],"nice":false,"zero":false},"axis":null},"x2":{"datum":28.0},"y":{"datum":1.3,"scale":{"domain":[-8.157,1.5],"nice":false,"zero":false},"axis":null}}},
{"mark":{"type":"point","shape":"triangle-right","filled":true,"size":30,"color":"#f0574a","opacity":1},
"encoding":{"x":{"datum":28.2,"scale":{"domain":[4.656,55.2],"nice":false,"zero":false},"axis":null},"y":{"datum":1.3,"scale":{"domain":[-8.157,1.5],"nice":false,"zero":false},"axis":null}}},
{"mark":{"type":"rule","color":"#f0574a","strokeWidth":1.3},
"encoding":{"x":{"datum":26.1,"scale":{"domain":[4.656,55.2],"nice":false,"zero":false},"axis":null},"x2":{"datum":27.7},"y":{"datum":-1.22,"scale":{"domain":[-8.157,1.5],"nice":false,"zero":false},"axis":null}}},
{"mark":{"type":"point","shape":"triangle-right","filled":true,"size":30,"color":"#f0574a","opacity":1},
"encoding":{"x":{"datum":27.9,"scale":{"domain":[4.656,55.2],"nice":false,"zero":false},"axis":null},"y":{"datum":-1.22,"scale":{"domain":[-8.157,1.5],"nice":false,"zero":false},"axis":null}}}
]
}
],
"resolve":{"scale":{"x":"independent","y":"independent"}}
},
{
"width":344,"height":205,
"data":{"values":[{}]},
"layer":[
{"data":{"name":"hm"},"mark":{"type":"rect","strokeWidth":0.5},
"encoding":{
"x":{"field":"t","type":"quantitative","scale":{"domain":[12,30],"nice":false,"zero":false},"axis":{"orient":"bottom","title":null,"values":[12,13.5,15,16.5,18,19.5,21,22.5,24,25.5,27,28.5,30],"format":"~g","labelExpr":"datum.value % 6 === 0 ? datum.label : ''","labelPadding":18}},
"x2":{"field":"t2"},
"y":{"field":"u","type":"quantitative","scale":{"domain":[0,0.3],"nice":false,"zero":false},"axis":{"orient":"left","title":null,"values":[0,0.05,0.1,0.15,0.2,0.25,0.3],"format":"~g","labelExpr":"round(datum.value*100) % 10 === 0 ? datum.label : ''","labelPadding":3}},
"y2":{"field":"u2"},
"fill":{"field":"k","type":"quantitative","legend":null,"scale":{"type":"linear","interpolate":"rgb","clamp":true,"domain":[-0.2,-0.01,0,0.45,0.75,1.05,1.25,1.5,1.8,2.1,2.8,3.25,3.6,3.85,4.05,4.3,4.65,4.95,5.05,5.4,8],"range":["#2b2350","#2b2350","#5b4e9f","#5d52a2","#6b72b6","#6dd0f0","#8cd3d0","#8ccdaa","#78c46a","#6ebf4a","#6cbd45","#9ccb40","#cddc44","#f0e64a","#f5c040","#f39a35","#ef6a30","#e8352b","#c02040","#7a1c2a","#6b1c24"]}},
"stroke":{"field":"k","type":"quantitative","legend":null,"scale":{"type":"linear","interpolate":"rgb","clamp":true,"domain":[-0.2,-0.01,0,0.45,0.75,1.05,1.25,1.5,1.8,2.1,2.8,3.25,3.6,3.85,4.05,4.3,4.65,4.95,5.05,5.4,8],"range":["#2b2350","#2b2350","#5b4e9f","#5d52a2","#6b72b6","#6dd0f0","#8cd3d0","#8ccdaa","#78c46a","#6ebf4a","#6cbd45","#9ccb40","#cddc44","#f0e64a","#f5c040","#f39a35","#ef6a30","#e8352b","#c02040","#7a1c2a","#6b1c24"]}}}},
{"mark":{"type":"rect","stroke":"#9a9a9a","strokeWidth":0.6,"fill":{"gradient":"linear","x1":0,"y1":0,"x2":1,"y2":0,"stops":[{"offset":0,"color":"#2b2350"},{"offset":0.018,"color":"#2b2350"},{"offset":0.021,"color":"#5b4e9f"},{"offset":0.106,"color":"#5d52a2"},{"offset":0.163,"color":"#6b72b6"},{"offset":0.22,"color":"#6dd0f0"},{"offset":0.258,"color":"#8cd3d0"},{"offset":0.305,"color":"#8ccdaa"},{"offset":0.3625,"color":"#78c46a"},{"offset":0.42,"color":"#6ebf4a"},{"offset":0.553,"color":"#6cbd45"},{"offset":0.638,"color":"#9ccb40"},{"offset":0.705,"color":"#cddc44"},{"offset":0.753,"color":"#f0e64a"},{"offset":0.791,"color":"#f5c040"},{"offset":0.838,"color":"#f39a35"},{"offset":0.905,"color":"#ef6a30"},{"offset":0.962,"color":"#e8352b"},{"offset":0.966,"color":"#e8352b"},{"offset":0.97,"color":"#a3195b"},{"offset":1,"color":"#a3195b"}]}},
"encoding":{"x":{"datum":15.035,"scale":{"domain":[12,30],"nice":false,"zero":false},"axis":{"orient":"top","title":null,"labels":false,"values":[12,13.5,15,16.5,18,19.5,21,22.5,24,25.5,27,28.5,30]}},"x2":{"datum":28.065},"y":{"datum":0.3102,"scale":{"domain":[0,0.3],"nice":false,"zero":false},"axis":{"orient":"right","title":null,"labels":false,"values":[0,0.05,0.1,0.15,0.2,0.25,0.3]}},"y2":{"datum":0.3366}}},
{"data":{"values":[{"c":15.244,"l":"0"},{"c":27.93,"l":"5"}]},"mark":{"type":"text","align":"center","baseline":"alphabetic","fontSize":22},
"encoding":{"x":{"field":"c","type":"quantitative","scale":{"domain":[12,30],"nice":false,"zero":false},"axis":null},"y":{"datum":0.3424,"scale":{"domain":[0,0.3],"nice":false,"zero":false},"axis":null},"text":{"field":"l"}}},
{"mark":{"type":"text","align":"left","baseline":"alphabetic","fontSize":25,"text":"κ"},
"encoding":{"x":{"datum":17.076,"scale":{"domain":[12,30],"nice":false,"zero":false},"axis":null},"y":{"datum":0.3454,"scale":{"domain":[0,0.3],"nice":false,"zero":false},"axis":null}}},
{"mark":{"type":"text","align":"left","baseline":"alphabetic","fontSize":15,"dx":13,"dy":-11,"text":"v"},
"encoding":{"x":{"datum":17.076,"scale":{"domain":[12,30],"nice":false,"zero":false},"axis":null},"y":{"datum":0.3454,"scale":{"domain":[0,0.3],"nice":false,"zero":false},"axis":null}}},
{"mark":{"type":"text","align":"left","baseline":"alphabetic","fontSize":14,"fontStyle":"italic","dx":12,"dy":5,"text":"xy"},
"encoding":{"x":{"datum":17.076,"scale":{"domain":[12,30],"nice":false,"zero":false},"axis":null},"y":{"datum":0.3454,"scale":{"domain":[0,0.3],"nice":false,"zero":false},"axis":null}}},
{"mark":{"type":"text","align":"left","baseline":"alphabetic","fontSize":25,"dx":26,"text":"(10"},
"encoding":{"x":{"datum":17.076,"scale":{"domain":[12,30],"nice":false,"zero":false},"axis":null},"y":{"datum":0.3454,"scale":{"domain":[0,0.3],"nice":false,"zero":false},"axis":null}}},
{"mark":{"type":"text","align":"left","baseline":"alphabetic","fontSize":15,"dx":59,"dy":-11,"text":"-3"},
"encoding":{"x":{"datum":17.076,"scale":{"domain":[12,30],"nice":false,"zero":false},"axis":null},"y":{"datum":0.3454,"scale":{"domain":[0,0.3],"nice":false,"zero":false},"axis":null}}},
{"mark":{"type":"text","align":"left","baseline":"alphabetic","fontSize":25,"dx":75,"text":"W/m K)"},
"encoding":{"x":{"datum":17.076,"scale":{"domain":[12,30],"nice":false,"zero":false},"axis":null},"y":{"datum":0.3454,"scale":{"domain":[0,0.3],"nice":false,"zero":false},"axis":null}}},
{"mark":{"type":"text","align":"left","baseline":"alphabetic","fontSize":26,"fontWeight":"bold","text":"(b)"},
"encoding":{"x":{"datum":8.02,"scale":{"domain":[12,30],"nice":false,"zero":false},"axis":null},"y":{"datum":0.3395,"scale":{"domain":[0,0.3],"nice":false,"zero":false},"axis":null}}},
{"mark":{"type":"text","align":"left","baseline":"alphabetic","fontSize":25,"fontStyle":"italic","text":"T"},
"encoding":{"x":{"datum":19.43,"scale":{"domain":[12,30],"nice":false,"zero":false},"axis":null},"y":{"datum":-0.099,"scale":{"domain":[0,0.3],"nice":false,"zero":false},"axis":null}}},
{"mark":{"type":"text","align":"left","baseline":"alphabetic","fontSize":25,"text":"(K)"},
"encoding":{"x":{"datum":20.48,"scale":{"domain":[12,30],"nice":false,"zero":false},"axis":null},"y":{"datum":-0.099,"scale":{"domain":[0,0.3],"nice":false,"zero":false},"axis":null}}},
{"mark":{"type":"text","align":"left","baseline":"alphabetic","angle":270,"fontSize":25,"fontStyle":"italic","text":"U"},
"encoding":{"x":{"datum":9.384,"scale":{"domain":[12,30],"nice":false,"zero":false},"axis":null},"y":{"datum":0.0849,"scale":{"domain":[0,0.3],"nice":false,"zero":false},"axis":null}}},
{"mark":{"type":"text","align":"left","baseline":"alphabetic","angle":270,"fontSize":25,"dx":24,"text":"(meV)"},
"encoding":{"x":{"datum":9.384,"scale":{"domain":[12,30],"nice":false,"zero":false},"axis":null},"y":{"datum":0.0849,"scale":{"domain":[0,0.3],"nice":false,"zero":false},"axis":null}}}
],
"resolve":{"axis":{"x":"independent","y":"independent"}}
}
]
}
